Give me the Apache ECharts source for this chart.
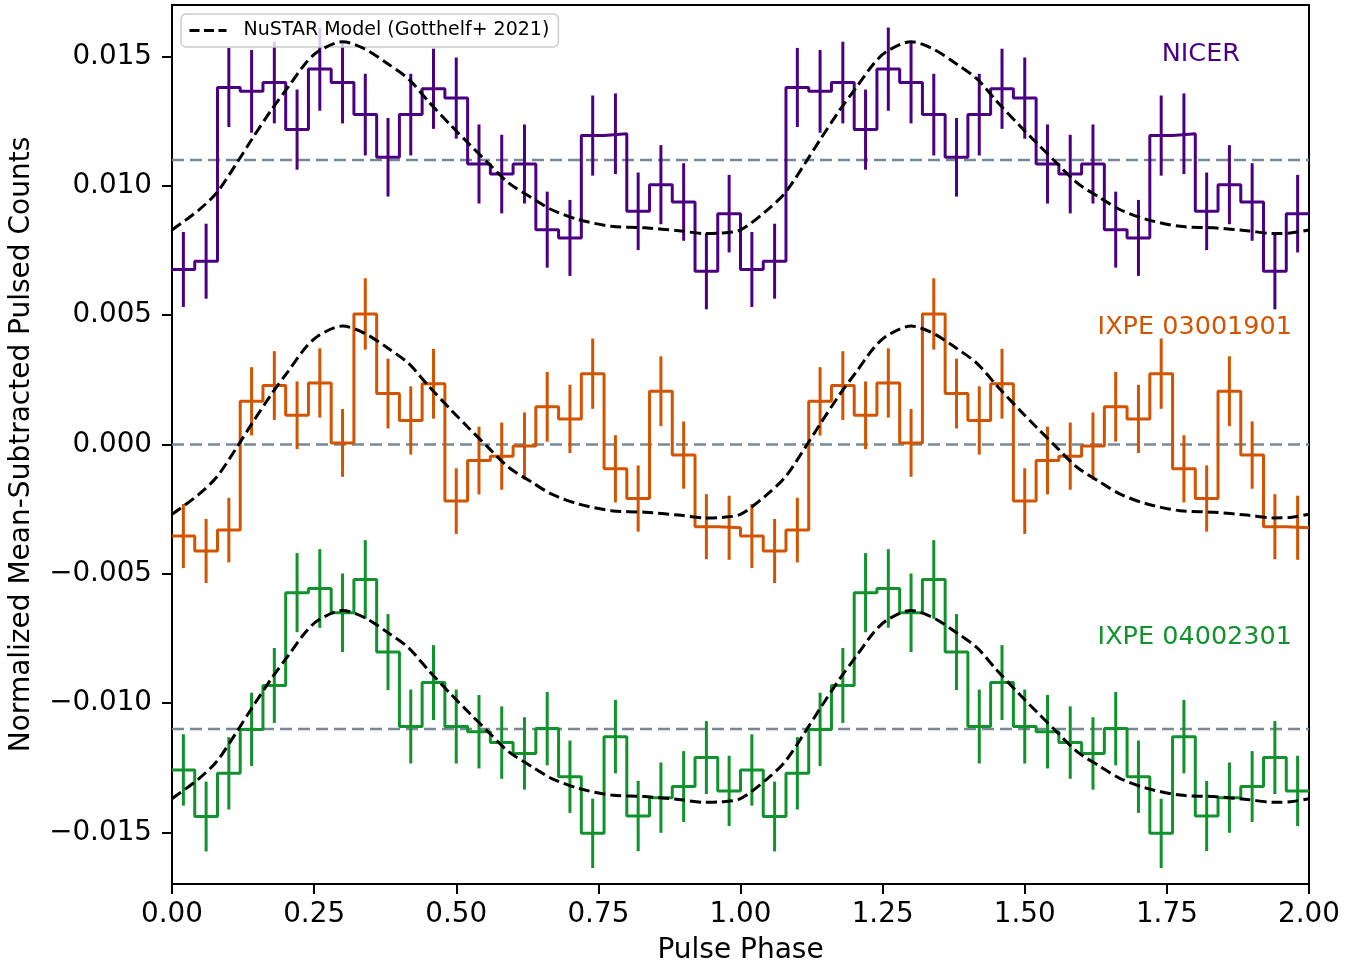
<!DOCTYPE html>
<html>
<head>
<meta charset="utf-8">
<script src="https://cdn.jsdelivr.net/npm/echarts@6/dist/echarts.min.js"></script>
<style>
  html, body { margin: 0; padding: 0; background: #fff; }
  #chart { width: 1364px; height: 964px; }
</style>
</head>
<body>
<div id="chart"></div>
<script>
// 25 phase bins per cycle, the cycle is drawn twice (phase 0-2)
const nBins = 25

const nicerVals = [0.00677, 0.00709, 0.01381, 0.01366, 0.01400, 0.01218, 0.01452, 0.01400, 0.01276, 0.01111,
  0.01276, 0.01376, 0.01340, 0.01085, 0.01046, 0.01085, 0.00831, 0.00799, 0.01195, 0.01202,
  0.00902, 0.01005, 0.00938, 0.00670, 0.00893]
const nicerErr = [0.00145, 0.00145, 0.00153, 0.00160, 0.00158, 0.00155, 0.00161, 0.00158, 0.00158, 0.00152,
  0.00158, 0.00155, 0.00157, 0.00153, 0.00152, 0.00153, 0.00147, 0.00147, 0.00155, 0.00156,
  0.00150, 0.00153, 0.00150, 0.00147, 0.00150]

const ixpe03Vals = [-0.00354, -0.00412, -0.00331, 0.00167, 0.00228, 0.00113, 0.00238, 0.00006, 0.00505, 0.00197,
  0.00093, 0.00235, -0.00219, -0.00062, -0.00045, -0.00006, 0.00146, 0.00099, 0.00274, -0.00094,
  -0.00209, 0.00206, -0.00041, -0.00318, -0.00322]
const ixpe03Err = [0.00124, 0.00124, 0.00125, 0.00132, 0.00133, 0.00131, 0.00134, 0.00131, 0.00138, 0.00135,
  0.00132, 0.00135, 0.00127, 0.00131, 0.00130, 0.00130, 0.00135, 0.00132, 0.00136, 0.00130,
  0.00128, 0.00135, 0.00130, 0.00126, 0.00124]

const ixpe04Vals = [-0.01259, -0.01439, -0.01272, -0.01102, -0.00932, -0.00573, -0.00557, -0.00651, -0.00522, -0.00803,
  -0.01091, -0.00921, -0.01091, -0.01111, -0.01153, -0.01195, -0.01099, -0.01285, -0.01504, -0.01130,
  -0.01437, -0.01366, -0.01323, -0.01211, -0.01340]
const ixpe04Err = [0.00138, 0.00135, 0.00140, 0.00142, 0.00145, 0.00153, 0.00152, 0.00152, 0.00152, 0.00147,
  0.00143, 0.00145, 0.00143, 0.00142, 0.00140, 0.00140, 0.00142, 0.00140, 0.00134, 0.00142,
  0.00136, 0.00136, 0.00137, 0.00141, 0.00136]

// NuSTAR model, relative to each curve's mean level
const modelPhase = [0, 0.046, 0.079, 0.114, 0.14, 0.175, 0.205, 0.234, 0.257, 0.30, 0.339, 0.38, 0.416, 0.451,
  0.492, 0.521, 0.556, 0.592, 0.633, 0.668, 0.715, 0.773, 0.832, 0.891, 0.938, 0.967, 1.0]
const modelShape = [-0.00270, -0.00195, -0.00125, -0.00011, 0.00079, 0.00195, 0.00285, 0.00372, 0.00420, 0.00458,
  0.00430, 0.00372, 0.00314, 0.00227, 0.00131, 0.00066, -0.00011, -0.00088, -0.00146, -0.00192,
  -0.00230, -0.00256, -0.00262, -0.00273, -0.00284, -0.00282, -0.00270]

const offsets = [0.011, 0, -0.011]
const names = ['NICER', 'IXPE 03001901', 'IXPE 04002301']
const colors = ['#4B0082', '#D35400', '#11922C']
const yTicks = [-0.015, -0.01, -0.005, 0, 0.005, 0.01, 0.015]
const modelName = 'NuSTAR Model (Gotthelf+ 2021)'

const FONT = 'DejaVu Sans'

function stepData(vals) {
  let d = []
  for (let c = 0; c < 2; c++) {
    for (let i = 0; i < nBins; i++) d.push([c + i / nBins, vals[i]])
  }
  d.push([2, vals[nBins - 1]])
  return d
}

function errData(vals, errs) {
  let d = []
  for (let c = 0; c < 2; c++) {
    for (let i = 0; i < nBins; i++) {
      d.push([c + (i + 0.5) / nBins, vals[i] - errs[i], vals[i] + errs[i]])
    }
  }
  return d
}

function modelData(off) {
  let d = []
  for (let c = 0; c < 2; c++) {
    modelPhase.forEach((p, k) => {
      if (c == 1 && k == 0) return
      d.push([c + p, off + modelShape[k]])
    })
  }
  return d
}

const allVals = [nicerVals, ixpe03Vals, ixpe04Vals]
const allErr = [nicerErr, ixpe03Err, ixpe04Err]

let series = []
// grey mean levels
offsets.forEach((off, k) => {
  series.push({
    name: names[k] + ' mean',
    type: 'line',
    symbol: 'none',
    silent: true,
    z: 1,
    lineStyle: { color: '#778899', type: [12, 6], width: 2.5 },
    data: [[0, off], [2, off]]
  })
})
allVals.forEach((vals, k) => {
  series.push({
    name: names[k],
    type: 'line',
    step: 'end',
    symbol: 'none',
    z: 3,
    lineStyle: { color: colors[k], width: 3 },
    data: stepData(vals)
  })
  series.push({
    name: names[k] + ' err',
    type: 'custom',
    z: 3,
    renderItem: function (params, api) {
      const p1 = api.coord([api.value(0), api.value(1)])
      const p2 = api.coord([api.value(0), api.value(2)])
      return {
        type: 'line',
        shape: { x1: p1[0], y1: p1[1], x2: p2[0], y2: p2[1] },
        style: { stroke: colors[k], lineWidth: 3 }
      }
    },
    encode: { x: 0, y: [1, 2] },
    data: errData(vals, allErr[k])
  })
})
offsets.forEach(off => {
  series.push({
    name: modelName,
    type: 'line',
    smooth: 0.3,
    symbol: 'none',
    z: 5,
    lineStyle: { color: '#000', width: 3, type: [11, 5] },
    itemStyle: { color: '#000' },
    data: modelData(off)
  })
})

const chart = echarts.init(document.getElementById('chart'))
chart.setOption({
  backgroundColor: '#fff',
  animation: false,
  grid: {
    left: 172, right: 55, top: 5, bottom: 80,
    outerBoundsMode: 'none',
    containLabel: false,
    show: true, borderColor: '#000', borderWidth: 2, backgroundColor: 'transparent'
  },
  legend: {
    data: [modelName],
    left: 181,
    top: 14,
    itemWidth: 37,
    itemHeight: 14,
    padding: [7, 9, 7, 7],
    backgroundColor: 'rgba(255,255,255,0.8)',
    borderColor: '#cccccc',
    borderWidth: 1.5,
    borderRadius: 5,
    itemStyle: { color: 'rgba(0,0,0,0)', borderWidth: 0, opacity: 0 },
    lineStyle: { color: '#000', width: 3, type: [10, 4.5] },
    textStyle: { fontSize: 19, fontFamily: FONT, color: '#000', padding: [0, 0, 0, 12] }
  },
  xAxis: {
    type: 'value',
    min: 0,
    max: 2,
    interval: 0.25,
    name: 'Pulse Phase',
    nameLocation: 'middle',
    nameGap: 53,
    nameTextStyle: { fontSize: 28, fontFamily: FONT, color: '#000' },
    axisLine: { show: true, onZero: false, lineStyle: { color: '#000', width: 2 } },
    axisTick: { show: true, inside: false, length: 10, lineStyle: { color: '#000', width: 2 } },
    axisLabel: {
      margin: 17, fontSize: 27.8, fontFamily: FONT, color: '#000',
      formatter: v => v.toFixed(2)
    },
    splitLine: { show: false }
  },
  yAxis: {
    type: 'value',
    min: -0.017,
    max: 0.017,
    name: 'Normalized Mean-Subtracted Pulsed Counts',
    nameLocation: 'middle',
    nameGap: 136,
    nameTextStyle: { fontSize: 28, fontFamily: FONT, color: '#000' },
    axisLine: { show: true, onZero: false, lineStyle: { color: '#000', width: 2 } },
    axisTick: { show: true, inside: false, length: 10, customValues: yTicks, lineStyle: { color: '#000', width: 2 } },
    axisLabel: {
      margin: 20, fontSize: 27.8, fontFamily: FONT, color: '#000',
      customValues: yTicks,
      formatter: v => (v < 0 ? '\u2212' : '') + Math.abs(v).toFixed(3)
    },
    splitLine: { show: false }
  },
  graphic: [
    { type: 'text', x: 1240, y: 54, z: 10,
      style: { text: names[0], fill: colors[0], font: '25.5px "DejaVu Sans"', align: 'right', verticalAlign: 'middle' } },
    { type: 'text', x: 1292, y: 327, z: 10,
      style: { text: names[1], fill: colors[1], font: '25.5px "DejaVu Sans"', align: 'right', verticalAlign: 'middle' } },
    { type: 'text', x: 1292, y: 637, z: 10,
      style: { text: names[2], fill: colors[2], font: '25.5px "DejaVu Sans"', align: 'right', verticalAlign: 'middle' } }
  ],
  series: series
})
</script>
</body>
</html>
